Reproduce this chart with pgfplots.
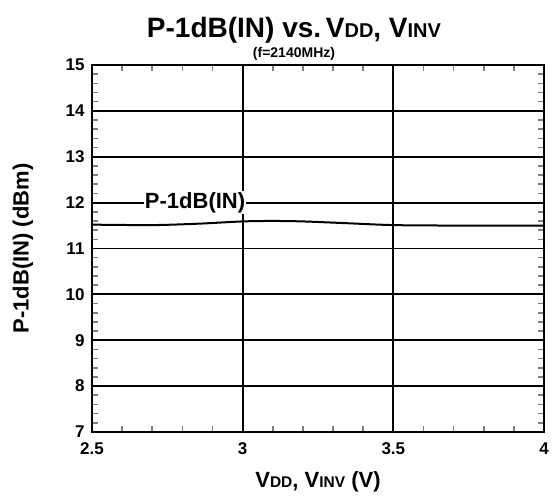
\documentclass[border=0pt]{standalone}
\usepackage{pgfplots}
\pgfplotsset{compat=1.18}
\usepackage{fontspec}
\setmainfont{Liberation Sans}
\newcommand{\sub}[1]{{\fontsize{15.5}{15.5}\selectfont #1}}
\begin{document}
\begin{tikzpicture}
\begin{axis}[
  scale only axis, clip=false,
  width=452pt, height=367pt,
  xmin=2.5, xmax=4, ymin=7, ymax=15,
  xtick={2.5,3,3.5,4}, ytick={7,8,...,15},
  xticklabels={2.5,3,3.5,4},
  minor x tick num=4, minor y tick num=4,
  tick align=inside, tick pos=both,
  major tick length=0pt, minor tick length=6pt,
  every minor tick/.style={line width=1.6pt},
  grid=major,
  major grid style={black, line width=1.8pt},
  axis line style={line width=2.6pt},
  tick label style={font=\bfseries\fontsize{17}{17}\selectfont},
  /pgf/number format/assume math mode=true,
  xticklabel style={yshift=-7pt},
  yticklabel style={xshift=-4pt},
  xlabel={\bfseries\fontsize{22}{22}\selectfont V\sub{DD}, V\sub{INV} (V)},
  ylabel={\bfseries\fontsize{22}{22}\selectfont P-1dB(IN) (dBm)},
  xlabel style={at={([yshift=-56pt]axis description cs:0.5,0)}, anchor=base},
  ylabel style={at={([xshift=-69pt]axis description cs:0,0.5)}, anchor=center},
]
\addplot[black, line width=2pt, smooth] coordinates {
  (2.5,11.52) (2.7,11.51) (2.85,11.54) (3.0,11.59) (3.1,11.6) (3.2,11.59)
  (3.35,11.55) (3.5,11.51) (3.7,11.5) (4.0,11.5)
};
\node[fill=white, inner sep=1pt, font=\bfseries\fontsize{22}{22}\selectfont] at (axis cs:2.842,12.0) {P-1dB(IN)};
\node[font=\bfseries\fontsize{28}{28}\selectfont, anchor=base] at ([xshift=-24pt,yshift=27pt]axis description cs:0.5,1) {P-1dB(IN) vs.\,V{\fontsize{20}{20}\selectfont DD}, V{\fontsize{20}{20}\selectfont INV}};
\node[font=\bfseries\fontsize{14}{14}\selectfont, anchor=base] at ([xshift=-24pt,yshift=7pt]axis description cs:0.5,1) {(f=2140MHz)};
\coordinate (sw) at (rel axis cs:0,0);
\coordinate (ne) at (rel axis cs:1,1);
\end{axis}
\pgfresetboundingbox
\path ([xshift=-92pt,yshift=-66pt]sw) rectangle ([xshift=8pt,yshift=65pt]ne);
\end{tikzpicture}
\end{document}
